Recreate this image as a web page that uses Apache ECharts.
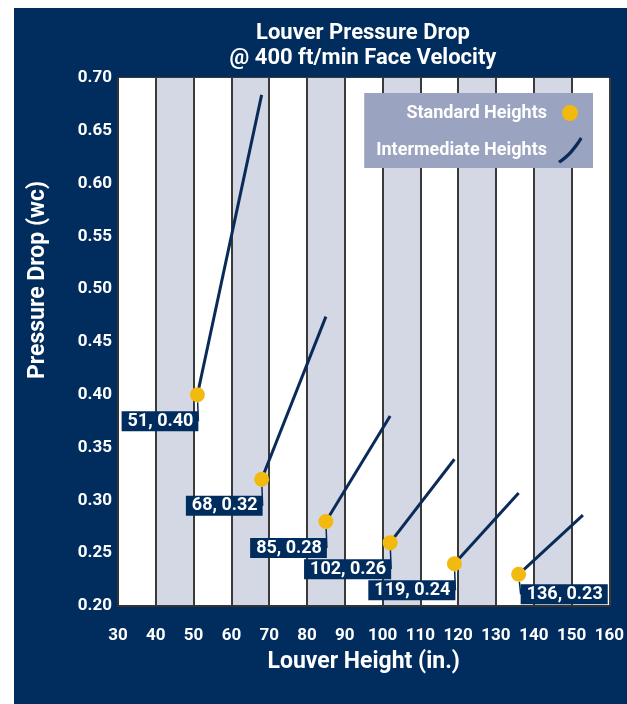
<!DOCTYPE html>
<html>
<head>
<meta charset="utf-8">
<script src="https://cdn.jsdelivr.net/npm/echarts@6/dist/echarts.min.js"></script>
<style>
  html, body { margin: 0; padding: 0; background: #ffffff; }
  #chart { position: absolute; left: 14px; top: 8px; width: 613px; height: 696px; }
</style>
</head>
<body>
<div id="chart"></div>
<script>
// Standard louver heights (in.) and their pressure drop (in. wc)
const standardHeights = [51, 68, 85, 102, 119, 136];
const standardDrops = [0.40, 0.32, 0.28, 0.26, 0.24, 0.23];

// Far end of each intermediate-height segment
const intermediateEndHeights = [68, 85, 102, 119, 136, 153];
const intermediateEndDrops = [0.684, 0.474, 0.380, 0.339, 0.307, 0.286];

// Axis ranges
const xRange = [30, 160];
const xStep = 10;
const yRange = [0.20, 0.70];
const yStep = 0.05;

const NAVY = '#002d5d';
const LINE_NAVY = '#0a2b58';
const GOLD = '#f2b90f';
const FONT = 'Roboto';

// Legend icons drawn in a 36x28 box (the leading moves pin the box size)
const DOT_ICON = 'path://M0,0 M36,28 M10,14 A8,8 0 1 1 26,14 A8,8 0 1 1 10,14 Z';
const CURVE_ICON = 'path://M0,0 M36,28 M6,25 C15,19 21,12 28,1 L30.5,3 C23.5,14 17.5,21.5 8,27.5 Z';

const chart = echarts.init(document.getElementById('chart'), null, { renderer: 'canvas' });

const lastIdx = standardHeights.length - 1;

const dotData = standardHeights.map((h, i) => {
  const onRight = i === lastIdx;
  return {
    value: [h, standardDrops[i]],
    label: onRight
      ? { position: [9.5, 17.5], align: 'left' }
      : { position: [8.5, 24], align: 'right' }
  };
});

const segmentSeries = standardHeights.map((h, i) => ({
  name: 'Intermediate Heights',
  type: 'line',
  data: [[h, standardDrops[i]], [intermediateEndHeights[i], intermediateEndDrops[i]]],
  symbol: 'none',
  lineStyle: { color: LINE_NAVY, width: 3 },
  itemStyle: { color: LINE_NAVY },
  z: 3,
  silent: true
}));

const option = {
  backgroundColor: NAVY,
  animation: false,
  textStyle: { fontFamily: FONT },
  graphic: [
    {
      type: 'text',
      x: 349, y: 13,
      style: {
        text: 'Louver Pressure Drop\n@ 400 ft/min Face Velocity',
        fill: '#ffffff',
        font: 'bold 22px ' + FONT,
        lineHeight: 25,
        align: 'center',
        verticalAlign: 'top'
      }
    },
    {
      type: 'text',
      x: 24, y: 272,
      rotation: Math.PI / 2,
      style: {
        text: 'Pressure Drop (wc)',
        fill: '#ffffff',
        font: 'bold 23px ' + FONT,
        align: 'center',
        verticalAlign: 'middle'
      }
    }
  ],
  grid: { left: 104, right: 17, top: 70, bottom: 98, containLabel: false },
  legend: {
    orient: 'vertical',
    right: 34,
    top: 85,
    align: 'right',
    backgroundColor: '#9aa3bf',
    borderRadius: 0,
    padding: [6, 5, 4, 12],
    itemGap: 9,
    itemWidth: 36,
    itemHeight: 28,
    textStyle: { color: '#ffffff', fontWeight: 'bold', fontSize: 18, fontFamily: FONT },
    data: [
      { name: 'Standard Heights', icon: DOT_ICON, itemStyle: { color: GOLD } },
      { name: 'Intermediate Heights', icon: CURVE_ICON, itemStyle: { color: LINE_NAVY } }
    ]
  },
  xAxis: {
    type: 'value',
    min: xRange[0], max: xRange[1], interval: xStep,
    name: 'Louver Height (in.)',
    nameLocation: 'middle',
    nameGap: 45,
    nameTextStyle: { color: '#ffffff', fontWeight: 'bold', fontSize: 23, fontFamily: FONT },
    axisLine: { show: true, lineStyle: { color: '#333333', width: 2 } },
    axisTick: { show: false },
    axisLabel: { color: '#ffffff', fontWeight: 'bold', fontSize: 17, margin: 21, fontFamily: FONT },
    splitLine: { show: true, lineStyle: { color: '#3a3a3a', width: 2 } },
    splitArea: { show: true, areaStyle: { color: ['#ffffff', '#d4d8e4'], opacity: 1 } }
  },
  yAxis: {
    type: 'value',
    min: yRange[0], max: yRange[1], interval: yStep,
    axisLine: { show: true, lineStyle: { color: '#333333', width: 2 } },
    axisTick: { show: false },
    axisLabel: {
      color: '#ffffff', fontWeight: 'bold', fontSize: 17, margin: 6, fontFamily: FONT,
      formatter: v => v.toFixed(2)
    },
    splitLine: { show: true, lineStyle: { color: '#3a3a3a', width: 2 } }
  },
  series: [
    ...segmentSeries,
    {
      name: 'Standard Heights',
      type: 'scatter',
      data: dotData,
      symbol: 'circle',
      symbolSize: 15,
      itemStyle: { color: GOLD, opacity: 1 },
      z: 5,
      label: {
        show: true,
        formatter: p => p.value[0] + ', ' + p.value[1].toFixed(2),
        color: '#ffffff',
        fontWeight: 'bold',
        fontSize: 18,
        lineHeight: 20,
        fontFamily: FONT,
        backgroundColor: NAVY,
        padding: [0, 5, 0, 6],
        verticalAlign: 'top'
      },
      labelLine: { show: true, lineStyle: { color: NAVY, width: 1.5 } }
    }
  ]
};

chart.setOption(option);
</script>
</body>
</html>
